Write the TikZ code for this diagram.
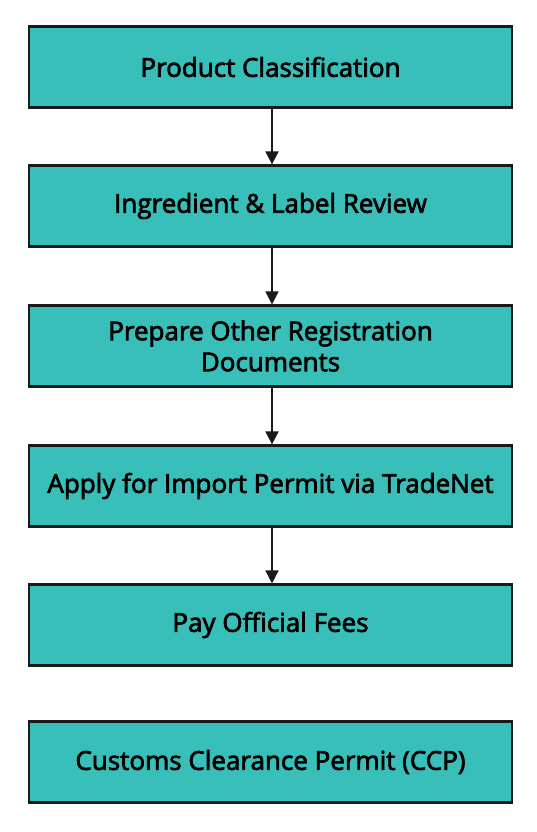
\documentclass[tikz,border=0pt]{standalone}
\usepackage{fontspec}
\setmainfont{Open Sans}
\newfontfamily\boxfont{Open Sans}[FakeBold=2.8]
\usetikzlibrary{arrows.meta}
\definecolor{boxteal}{HTML}{38BFB9}
\definecolor{edge}{HTML}{1A1A1A}
\tikzset{
  stepbox/.style={draw=edge, line width=2.2pt, fill=boxteal, minimum width=483pt, minimum height=81pt, inner sep=0pt, align=center, font=\boxfont\fontsize{26}{31}\selectfont, text=black},
  conn/.style={draw=edge, line width=1.8pt, -{Triangle[length=13pt,width=13pt]}}
}
\begin{document}
\begin{tikzpicture}[x=1pt,y=1pt]
\useasboundingbox (0,0) rectangle (537,832);
\fill[white] (0,0) rectangle (537,832);
\node[stepbox] (b1) at (270.5,765) {Product Classification};
\node[stepbox] (b2) at (270.5,626) {Ingredient \& Label Review};
\node[stepbox] (b3) at (270.5,486) {Prepare Other Registration\\Documents};
\node[stepbox] (b4) at (270.5,346) {Apply for Import Permit via TradeNet};
\node[stepbox] (b5) at (270.5,207) {Pay Official Fees};
\node[stepbox] (b6) at (270.5,70) {Customs Clearance Permit (CCP)};
\draw[conn] (b1.south -| 272,0) -- (b2.north -| 272,0);
\draw[conn] (b2.south -| 272,0) -- (b3.north -| 272,0);
\draw[conn] (b3.south -| 272,0) -- (b4.north -| 272,0);
\draw[conn] (b4.south -| 272,0) -- (b5.north -| 272,0);
\end{tikzpicture}
\end{document}
